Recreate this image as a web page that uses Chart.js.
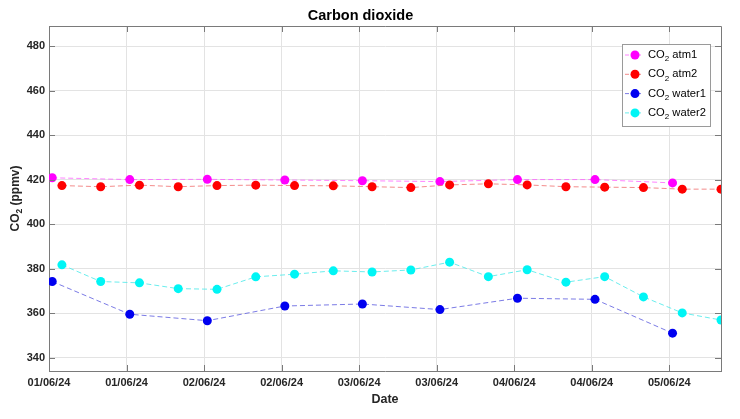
<!DOCTYPE html>
<html>
<head>
<meta charset="utf-8">
<script src="https://cdn.jsdelivr.net/npm/chart.js@4/dist/chart.umd.min.js"></script>
<style>
    html, body { margin: 0; padding: 0; background: #ffffff; }
    canvas { display: block; }
</style>
</head>
<body>
<canvas id="graficoCO2" width="740" height="419"></canvas>
<script>
// hours since 01/06/24 00:00
const horasAtm1 = [0.5, 12.5, 24.5, 36.5, 48.5, 60.5, 72.5, 84.5, 96.5];
const horasAtm2 = [2, 8, 14, 20, 26, 32, 38, 44, 50, 56, 62, 68, 74, 80, 86, 92, 98, 104];

const co2Atm1 = [420.8, 420.0, 420.1, 419.8, 419.5, 419.1, 420.0, 420.0, 418.5];
const co2Atm2 = [417.3, 416.8, 417.5, 416.8, 417.3, 417.5, 417.3, 417.2, 416.8,
                 416.4, 417.6, 418.1, 417.6, 416.8, 416.6, 416.4, 415.7, 415.7];
const co2Water1 = [374.2, 359.5, 356.6, 363.2, 364.1, 361.6, 366.7, 366.2, 351.0];
const co2Water2 = [381.7, 374.2, 373.6, 371.0, 370.7, 376.3, 377.5, 379.0, 378.5,
                   379.4, 382.9, 376.4, 379.5, 373.9, 376.4, 367.3, 360.1, 356.9];

const nomesSeries = ["atm1", "atm2", "water1", "water2"];

const xTickHoras = [0, 12, 24, 36, 48, 60, 72, 84, 96];
const xTickLabels = ["01/06/24", "01/06/24", "02/06/24", "02/06/24", "03/06/24",
                     "03/06/24", "04/06/24", "04/06/24", "05/06/24"];
const yTicks = [340, 360, 380, 400, 420, 440, 460, 480];

const FONTE = "'Liberation Sans', Arial, Helvetica, sans-serif";

function pontos(horas, valores) {
    return horas.map((h, i) => ({ x: h, y: valores[i] }));
}

function serie(nome, horas, valores, corLinha, corPonto, ordem) {
    return {
        label: "CO\u2082 " + nome,
        data: pontos(horas, valores),
        borderColor: corLinha,
        borderWidth: 1,
        borderDash: [5, 3],
        backgroundColor: corPonto,
        pointBackgroundColor: corPonto,
        pointBorderColor: corPonto,
        pointRadius: 4.5,
        pointBorderWidth: 0,
        tension: 0,
        order: ordem
    };
}

// frame, inward ticks, y title with subscript
const molduraPlugin = {
    id: "moldura",
    afterDatasetsDraw(chart) {
        const ctx = chart.ctx;
        const a = chart.chartArea;
        const xs = chart.scales.x;
        const ys = chart.scales.y;
        ctx.save();
        ctx.strokeStyle = "#7a7a7a";
        ctx.lineWidth = 1;
        ctx.beginPath();
        ctx.moveTo(a.left, a.top + 0.5);
        ctx.lineTo(a.right + 0.5, a.top + 0.5);
        ctx.lineTo(a.right + 0.5, a.bottom);
        xTickHoras.forEach(h => {
            const px = Math.round(xs.getPixelForValue(h)) + 0.5;
            ctx.moveTo(px, a.bottom);
            ctx.lineTo(px, a.bottom - 6);
            ctx.moveTo(px, a.top);
            ctx.lineTo(px, a.top + 6);
        });
        yTicks.forEach(v => {
            const py = Math.round(ys.getPixelForValue(v)) + 0.5;
            ctx.moveTo(a.left, py);
            ctx.lineTo(a.left + 6, py);
            ctx.moveTo(a.right, py);
            ctx.lineTo(a.right - 6, py);
        });
        ctx.stroke();
        ctx.restore();
    },
    afterDraw(chart) {
        const ctx = chart.ctx;
        const a = chart.chartArea;
        ctx.save();
        ctx.translate(16, (a.top + a.bottom) / 2);
        ctx.rotate(-Math.PI / 2);
        ctx.fillStyle = "#262626";
        ctx.textBaseline = "middle";
        const p1 = "CO", p3 = " (ppmv)";
        ctx.font = "bold 12px " + FONTE;
        const w1 = ctx.measureText(p1).width;
        const w3 = ctx.measureText(p3).width;
        ctx.font = "bold 8.5px " + FONTE;
        const w2 = ctx.measureText("2").width;
        let x = -(w1 + w2 + w3) / 2;
        ctx.font = "bold 12px " + FONTE;
        ctx.fillText(p1, x, 0);
        x += w1;
        ctx.font = "bold 8.5px " + FONTE;
        ctx.fillText("2", x, 4);
        x += w2;
        ctx.font = "bold 12px " + FONTE;
        ctx.fillText(p3, x, 0);
        ctx.restore();
    }
};

// legend box inside the axes, like the original
const legendaPlugin = {
    id: "legendaInterna",
    afterDraw(chart) {
        const ctx = chart.ctx;
        const x0 = 622, y0 = 44, w = 88, h = 82;
        ctx.save();
        ctx.fillStyle = "#ffffff";
        ctx.fillRect(x0, y0, w, h);
        ctx.strokeStyle = "#9a9a9a";
        ctx.lineWidth = 1;
        ctx.strokeRect(x0 + 0.5, y0 + 0.5, w, h);

        chart.data.datasets.forEach((ds, i) => {
            const y = y0 + 11 + i * 19.3;
            ctx.strokeStyle = ds.borderColor;
            ctx.setLineDash([4, 2]);
            ctx.beginPath();
            ctx.moveTo(x0 + 3, y);
            ctx.lineTo(x0 + 20, y);
            ctx.stroke();
            ctx.setLineDash([]);
            ctx.fillStyle = ds.pointBackgroundColor;
            ctx.beginPath();
            ctx.arc(x0 + 13, y, 4.5, 0, Math.PI * 2);
            ctx.fill();

            ctx.fillStyle = "#000000";
            ctx.textBaseline = "middle";
            let x = x0 + 26;
            ctx.font = "11.2px " + FONTE;
            ctx.fillText("CO", x, y);
            x += ctx.measureText("CO").width;
            ctx.font = "8px " + FONTE;
            ctx.fillText("2", x, y + 4);
            x += ctx.measureText("2").width;
            ctx.font = "11.2px " + FONTE;
            ctx.fillText(" " + nomesSeries[i], x, y);
        });
        ctx.restore();
    }
};

const ctx = document.getElementById("graficoCO2").getContext("2d");

new Chart(ctx, {
    type: "line",
    data: {
        datasets: [
            serie(nomesSeries[0], horasAtm1, co2Atm1, "rgba(255, 90, 255, 0.75)", "#ff00ff", 3),
            serie(nomesSeries[1], horasAtm2, co2Atm2, "rgba(240, 110, 110, 0.8)", "#ff0000", 2),
            serie(nomesSeries[2], horasAtm1, co2Water1, "rgba(100, 100, 225, 0.85)", "#0000f0", 1),
            serie(nomesSeries[3], horasAtm2, co2Water2, "rgba(90, 235, 235, 0.9)", "#00f5f5", 0)
        ]
    },
    options: {
        responsive: false,
        animation: false,
        devicePixelRatio: 1,
        layout: {
            padding: { left: 0, right: 19, top: 0, bottom: 0 }
        },
        plugins: {
            legend: { display: false },
            tooltip: { enabled: false },
            title: {
                display: true,
                text: "Carbon dioxide",
                color: "#000000",
                font: { family: FONTE, size: 14.5, weight: "bold" },
                padding: { top: 7, bottom: 1.6 }
            }
        },
        scales: {
            x: {
                type: "linear",
                min: 0,
                max: 104,
                afterBuildTicks: s => { s.ticks = xTickHoras.map(v => ({ value: v })); },
                afterFit: s => { s.height = 48; },
                ticks: {
                    autoSkip: false,
                    maxRotation: 0,
                    padding: 5,
                    color: "#262626",
                    font: { family: FONTE, size: 11, weight: "bold" },
                    callback: (v, i) => xTickLabels[i]
                },
                grid: { color: "#e3e3e3", drawTicks: false },
                border: { color: "#7a7a7a" },
                title: {
                    display: true,
                    text: "Date",
                    color: "#262626",
                    font: { family: FONTE, size: 12.5, weight: "bold" },
                    padding: { top: 0, bottom: 11.5 }
                }
            },
            y: {
                min: 334,
                max: 489,
                afterBuildTicks: s => { s.ticks = yTicks.map(v => ({ value: v })); },
                afterFit: s => { s.width = 49; },
                ticks: {
                    padding: 4,
                    color: "#262626",
                    font: { family: FONTE, size: 11, weight: "bold" }
                },
                grid: { color: "#e3e3e3", drawTicks: false },
                border: { color: "#7a7a7a" }
            }
        }
    },
    plugins: [molduraPlugin, legendaPlugin]
});
</script>
</body>
</html>
